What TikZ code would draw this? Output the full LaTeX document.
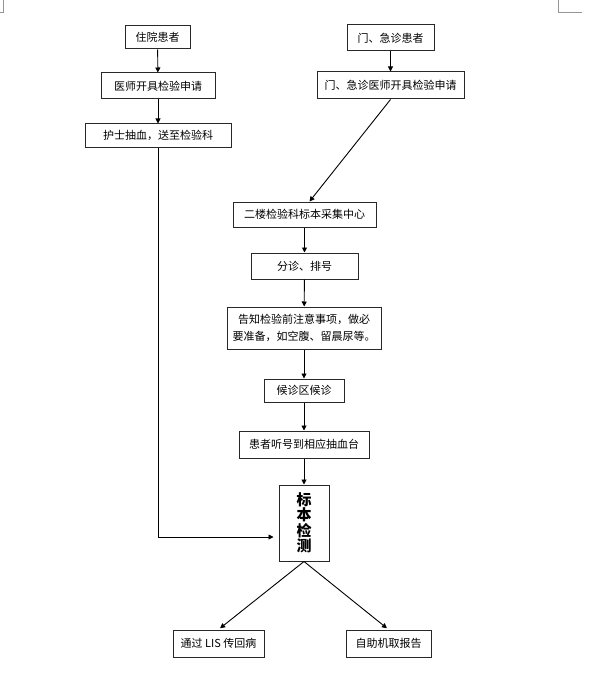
\documentclass[tikz,border=0pt]{standalone}
\usepackage{fontspec}
\setmainfont{Liberation Serif}
\newfontfamily\cjk{Noto Sans CJK SC}
\usepackage{tikz}
\usetikzlibrary{arrows.meta}
\definecolor{boxgray}{RGB}{40, 40, 40}
\definecolor{markgray}{RGB}{150, 150, 150}
\tikzset{
  stepbox/.style={draw=boxgray, line width=1pt, inner sep=0pt, align=center,
    font=\cjk\fontsize{11}{17.5}\selectfont},
  flowarrow/.style={-{Triangle[length=5pt, width=5pt]}, line width=0.9pt},
}
\begin{document}
\begin{tikzpicture}[x=1pt, y=-1pt]
        \useasboundingbox (0,0) rectangle (589,674);
        \draw[markgray, line width=0.8pt] (3,0) -- (3,12) -- (0,12);
        \draw[markgray, line width=0.8pt] (558,0) -- (558,12) -- (582,12);
        \node[stepbox, minimum width=65pt, minimum height=23pt] (inpat) at (157.5,37.5) {住院患者};
        \node[stepbox, minimum width=87pt, minimum height=26pt] (outpat) at (390.5,38) {门、急诊患者};
        \node[stepbox, minimum width=114pt, minimum height=26pt] (inorder) at (158,86) {医师开具检验申请};
        \node[stepbox, minimum width=147pt, minimum height=27pt] (outorder) at (390.5,85.5) {门、急诊医师开具检验申请};
        \node[stepbox, minimum width=146pt, minimum height=23pt] (nurse) at (158,135.5) {护士抽血，送至检验科};
        \node[stepbox, minimum width=143pt, minimum height=25pt] (center) at (304.5,214.5) {二楼检验科标本采集中心};
        \node[stepbox, minimum width=107pt, minimum height=26pt] (triage) at (304.5,266) {分诊、排号};
        \node[stepbox, minimum width=154pt, minimum height=42pt] (notice) at (304,328) {告知检验前注意事项，做必\\要准备，如空腹、留晨尿等。};
        \node[stepbox, minimum width=80pt, minimum height=23pt] (wait) at (304,390.5) {候诊区候诊};
        \node[stepbox, minimum width=130pt, minimum height=27pt] (call) at (304,444.5) {患者听号到相应抽血台};
        \node[stepbox, minimum width=50pt, minimum height=76pt, font=\cjk\bfseries\fontsize{15}{15.5}\selectfont] (test) at (304,523) {标\\本\\检\\测};
        \node[stepbox, minimum width=91pt, minimum height=27pt] (lis) at (218.5,643.5) {通过 LIS 传回病};
        \node[stepbox, minimum width=85pt, minimum height=27pt] (kiosk) at (388.5,643.5) {自助机取报告};
        \draw[flowarrow] (inpat) -- (inorder);
        \draw[flowarrow] (inorder) -- (nurse);
        \draw[flowarrow] (outpat) -- (outorder);
        \draw[flowarrow] (outorder.south) -- ([xshift=5pt]center.north);
        \draw[flowarrow] (center) -- (triage);
        \draw[flowarrow] (triage) -- (notice);
        \draw[flowarrow] (notice) -- (wait);
        \draw[flowarrow] (wait) -- (call);
        \draw[flowarrow] (call) -- (test);
        \draw[flowarrow, shorten >=5pt] (nurse.south) |- ([yshift=-14pt]test.west);
        \draw[flowarrow, shorten >=2pt] (test.south) -- (lis.north);
        \draw[flowarrow, shorten >=2pt] (test.south) -- (kiosk.north);
      \end{tikzpicture}
\end{document}
